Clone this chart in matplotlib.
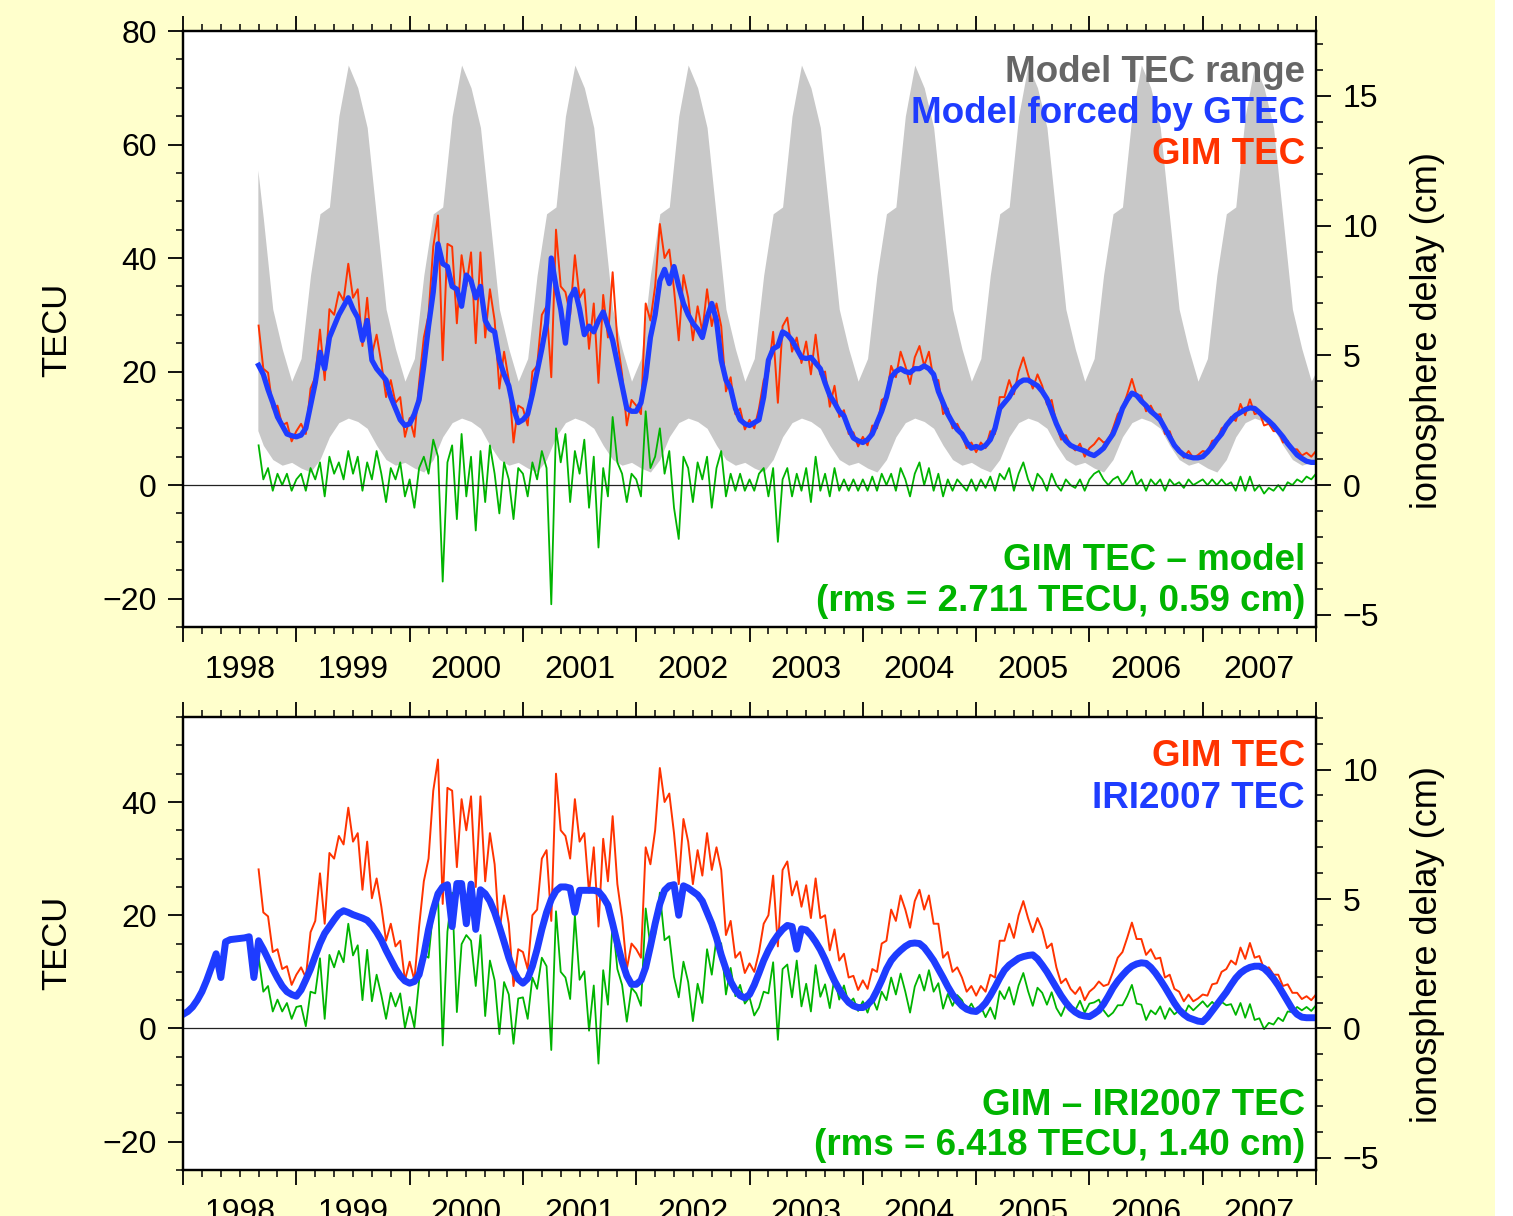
import numpy as np
import matplotlib
matplotlib.use("Agg")
import matplotlib.pyplot as plt
from matplotlib.patches import Rectangle
from matplotlib.ticker import MultipleLocator, FixedLocator, FuncFormatter, NullFormatter

plt.rcParams['font.family'] = ['Liberation Sans', 'DejaVu Sans']

# ---- data ----
# half-month grid: 1998.0 + k/24, GIM and model start at k = 16
STEP = 1.0 / 24
GIM_START = 16
KU_CM_PER_TECU = 0.2187   # Ku-band delay per TECU

# GIM TEC (red)
gim_tec = [
    28.1, 20.5, 19.8, 13.5, 14.0, 10.5, 11.0, 7.7,
    9.5, 10.8, 9.0, 17.0, 19.0, 27.4, 18.5, 31.0, 30.0, 34.0, 32.5, 39.0,
    33.0, 34.5, 24.5, 33.0, 23.0, 26.5, 21.5, 15.5, 18.5, 14.5, 15.5, 8.5,
    11.8, 8.5, 18.0, 26.0, 30.0, 42.0, 47.5, 22.0, 42.5, 42.0, 28.5, 40.5,
    35.0, 41.0, 25.0, 41.0, 26.0, 34.5, 29.0, 17.0, 23.5, 18.5, 7.5, 14.0,
    13.5, 10.5, 20.0, 21.0, 30.0, 31.5, 19.0, 45.0, 35.0, 34.0, 30.0, 40.5,
    33.0, 34.5, 24.0, 32.0, 18.0, 33.5, 26.0, 37.5, 25.5, 19.5, 10.5, 15.0,
    14.0, 12.5, 32.0, 29.0, 35.0, 46.0, 40.0, 41.5, 34.5, 25.5, 37.0, 33.0,
    25.5, 31.5, 27.0, 34.5, 28.0, 32.0, 28.0, 16.5, 19.0, 12.5, 13.5, 9.8,
    11.5, 10.0, 13.5, 18.5, 20.0, 27.0, 14.5, 28.0, 29.5, 23.5, 26.0, 21.5,
    25.3, 19.5, 26.5, 19.5, 20.0, 13.8, 17.5, 12.0, 13.2, 9.0, 9.3, 6.8,
    8.5, 7.0, 10.5, 10.0, 15.0, 15.5, 21.0, 19.0, 23.5, 21.0, 17.8, 22.5,
    24.5, 21.0, 23.5, 18.5, 18.5, 12.5, 13.5, 10.0, 10.8, 9.0, 6.5, 7.5,
    5.8, 7.5, 6.5, 9.5, 9.0, 15.5, 15.5, 18.5, 16.0, 20.0, 22.5, 19.5,
    17.0, 19.5, 17.5, 14.2, 15.0, 10.8, 8.0, 8.8, 7.0, 6.1, 7.3, 5.0,
    6.5, 7.2, 8.3, 7.5, 7.8, 10.0, 12.5, 13.5, 16.0, 18.7, 15.8, 15.8,
    13.0, 14.0, 12.3, 12.5, 9.0, 9.5, 7.0, 6.5, 4.8, 6.0, 4.8, 5.3,
    6.0, 5.8, 7.8, 8.0, 10.0, 10.5, 12.0, 11.3, 14.3, 12.3, 15.1, 12.5,
    12.8, 10.5, 10.8, 9.5, 9.5, 7.5, 7.8, 6.3, 6.3, 5.2, 5.7, 5.0,
    6.0,
]

# model forced by GTEC (blue, top panel)
model_tec = [
    21.1, 19.5, 16.8, 14.5, 12.0, 10.5, 9.0, 8.7,
    8.5, 8.8, 10.0, 14.0, 18.0, 23.4, 20.5, 26.0, 28.0, 30.0, 31.5, 33.0,
    31.0, 29.5, 25.5, 29.0, 22.0, 20.5, 19.5, 18.5, 15.5, 13.5, 11.5, 10.5,
    10.8, 12.5, 15.0, 21.0, 28.0, 34.0, 42.5, 39.0, 38.5, 35.0, 34.5, 31.5,
    37.0, 36.0, 33.0, 35.0, 29.0, 27.5, 27.0, 22.0, 19.5, 17.5, 13.5, 11.0,
    11.5, 12.5, 16.0, 20.0, 24.0, 28.5, 40.0, 35.0, 31.0, 25.0, 33.0, 34.5,
    31.0, 26.5, 28.0, 27.0, 29.0, 30.5, 28.0, 25.5, 21.5, 17.5, 13.5, 13.0,
    13.0, 14.5, 19.0, 26.0, 30.0, 36.0, 38.0, 35.5, 38.5, 35.0, 32.0, 30.0,
    28.5, 27.5, 26.0, 29.5, 32.0, 29.0, 22.0, 18.5, 17.0, 13.5, 11.5, 10.8,
    10.5, 11.0, 11.5, 15.5, 22.0, 24.0, 24.5, 27.0, 26.5, 25.5, 24.0, 22.5,
    22.3, 22.5, 21.5, 20.5, 18.0, 15.8, 14.5, 13.0, 12.2, 10.0, 8.3, 7.8,
    7.5, 8.0, 9.0, 11.0, 13.0, 15.5, 19.0, 20.0, 20.5, 20.0, 19.8, 20.5,
    20.5, 21.0, 20.5, 19.5, 16.5, 14.5, 12.5, 11.0, 9.8, 9.0, 7.5, 6.5,
    6.8, 6.5, 7.0, 8.0, 10.0, 13.5, 14.5, 15.5, 17.0, 18.0, 18.5, 18.5,
    18.0, 17.5, 16.5, 15.2, 13.0, 10.8, 9.0, 7.8, 7.0, 6.6, 6.3, 6.0,
    5.5, 5.2, 5.8, 6.5, 7.8, 9.0, 11.0, 13.5, 15.0, 16.2, 15.8, 14.8,
    14.0, 13.0, 12.3, 11.5, 10.0, 8.5, 7.0, 6.0, 5.3, 5.0, 4.8, 4.8,
    5.0, 5.8, 6.8, 8.0, 9.0, 10.5, 11.5, 12.3, 12.8, 13.3, 13.6, 13.5,
    12.8, 12.0, 11.3, 10.5, 9.5, 8.5, 7.3, 6.3, 5.3, 4.7, 4.2, 4.0,
    4.0,
]

# IRI2007 TEC (blue, bottom panel), from 1998.0
iri_tec = [
    2.5, 3.0, 3.8, 5.0, 6.5, 8.5, 10.8, 13.2, 9.0, 15.3, 15.7, 15.8,
    15.9, 16.0, 16.2, 9.0, 15.5, 14.0, 12.3, 10.5, 8.9, 7.5, 6.5, 6.0,
    5.7, 6.8, 8.6, 10.5, 12.8, 15.0, 16.8, 18.0, 19.2, 20.3, 20.8, 20.5,
    20.1, 19.8, 19.5, 19.1, 18.2, 17.0, 15.6, 13.8, 12.2, 10.6, 9.3, 8.4,
    8.0, 8.3, 9.5, 13.0, 17.5, 21.0, 23.8, 25.0, 25.4, 18.0, 25.6, 25.6,
    18.5, 25.5, 17.5, 24.5, 23.8, 22.5, 20.5, 18.0, 15.3, 12.5, 10.2, 8.7,
    8.0, 8.8, 11.0, 14.0, 17.5, 20.5, 22.8, 24.3, 25.0, 25.0, 24.8, 20.5,
    24.4, 24.4, 24.4, 24.4, 24.2, 23.2, 21.8, 18.5, 15.0, 11.8, 9.3, 7.8,
    7.8, 8.5, 10.8, 14.5, 18.5, 22.0, 24.4, 25.2, 25.4, 20.0, 25.2, 24.8,
    24.2, 23.6, 22.5, 20.5, 18.5, 16.0, 13.0, 10.5, 8.3, 6.8, 5.8, 5.4,
    6.0, 7.7, 9.8, 12.0, 13.8, 15.3, 16.5, 17.5, 18.2, 18.0, 14.0, 17.6,
    17.4, 16.5, 15.3, 13.9, 12.2, 10.2, 8.4, 6.9, 5.6, 4.6, 4.0, 3.7,
    3.7, 4.2, 5.1, 6.7, 8.5, 10.5, 12.0, 13.0, 13.8, 14.5, 15.0, 15.1,
    15.0, 14.3, 13.2, 12.0, 10.5, 9.0, 7.4, 6.0, 4.9, 4.0, 3.4, 3.1,
    3.0, 3.6, 4.5, 5.8, 7.3, 8.9, 10.3, 11.2, 11.8, 12.4, 12.7, 12.9,
    13.0, 12.3, 11.2, 10.0, 8.6, 7.2, 5.8, 4.6, 3.6, 2.9, 2.4, 2.2,
    2.1, 2.6, 3.2, 4.3, 5.7, 7.2, 8.4, 9.4, 10.3, 11.0, 11.4, 11.6,
    11.5, 10.8, 9.8, 8.6, 7.3, 5.9, 4.5, 3.3, 2.5, 1.9, 1.6, 1.3,
    1.2, 2.0, 3.1, 4.2, 5.3, 6.4, 7.7, 8.9, 9.8, 10.4, 10.8, 11.0,
    11.0, 10.6, 9.8, 8.8, 7.6, 6.2, 4.8, 3.4, 2.5, 2.0, 1.9, 1.9,
    1.9,
]

# model TEC range (grey band): start late Aug 1998, then monthly mid-points, end 2008.0
band_upper = [
    55.5, 47.0, 31.0, 24.0, 18.3,
    22.3, 37.0, 47.8, 49.0, 65.0, 74.0, 70.0, 63.0, 47.0, 31.0, 24.0, 18.3,
    22.3, 37.0, 47.8, 49.0, 65.0, 74.0, 70.0, 63.0, 47.0, 31.0, 24.0, 18.3,
    22.3, 37.0, 47.8, 49.0, 65.0, 74.0, 70.0, 63.0, 47.0, 31.0, 24.0, 18.3,
    22.3, 37.0, 47.8, 49.0, 65.0, 74.0, 70.0, 63.0, 47.0, 31.0, 24.0, 18.3,
    22.3, 37.0, 47.8, 49.0, 65.0, 74.0, 70.0, 63.0, 47.0, 31.0, 24.0, 18.3,
    22.3, 37.0, 47.8, 49.0, 65.0, 74.0, 70.0, 63.0, 47.0, 31.0, 24.0, 18.3,
    22.3, 37.0, 47.8, 49.0, 65.0, 74.0, 70.0, 63.0, 47.0, 31.0, 24.0, 18.3,
    22.3, 37.0, 47.8, 49.0, 65.0, 74.0, 70.0, 63.0, 47.0, 31.0, 24.0, 18.3,
    22.3, 37.0, 47.8, 49.0, 65.0, 74.0, 70.0, 63.0, 47.0, 31.0, 24.0, 18.3,
    20.0,
]
band_lower = [
    9.6, 7.0, 4.5, 3.5, 4.0,
    3.0, 2.3, 4.5, 8.5, 11.0, 11.8, 11.2, 10.0, 7.0, 4.5, 3.5, 4.0,
    3.0, 2.3, 4.5, 8.5, 11.0, 11.8, 11.2, 10.0, 7.0, 4.5, 3.5, 4.0,
    3.0, 2.3, 4.5, 8.5, 11.0, 11.8, 11.2, 10.0, 7.0, 4.5, 3.5, 4.0,
    3.0, 2.3, 4.5, 8.5, 11.0, 11.8, 11.2, 10.0, 7.0, 4.5, 3.5, 4.0,
    3.0, 2.3, 4.5, 8.5, 11.0, 11.8, 11.2, 10.0, 7.0, 4.5, 3.5, 4.0,
    3.0, 2.3, 4.5, 8.5, 11.0, 11.8, 11.2, 10.0, 7.0, 4.5, 3.5, 4.0,
    3.0, 2.3, 4.5, 8.5, 11.0, 11.8, 11.2, 10.0, 7.0, 4.5, 3.5, 4.0,
    3.0, 2.3, 4.5, 8.5, 11.0, 11.8, 11.2, 10.0, 7.0, 4.5, 3.5, 4.0,
    3.0, 2.3, 4.5, 8.5, 11.0, 11.8, 11.2, 10.0, 7.0, 4.5, 3.5, 4.0,
    3.5,
]
band_time = ([1998.66]
             + [1998 + (m + 0.5) / 12 for m in range(8, 12)]
             + [y + (m + 0.5) / 12 for y in range(1999, 2008) for m in range(12)]
             + [2008.0])

years = list(range(1998, 2008))

RED = '#FF3300'
BLUE = '#1E3CFF'
GREEN = '#00B400'
GREY = '#C8C8C8'
YELLOW = '#FFFFCC'

t_iri = 1998 + np.arange(len(iri_tec)) * STEP
t_gim = t_iri[GIM_START:]
gim = np.array(gim_tec)
model = np.array(model_tec)
iri = np.array(iri_tec)


def year_label(x, pos):
    if abs(x - np.floor(x) - 0.5) < 1e-6:
        return str(int(np.floor(x)))
    return ''


def style_axes(ax, ymin, ymax):
    ax.set_xlim(1998, 2008)
    ax.set_ylim(ymin, ymax)
    ax.xaxis.set_major_locator(FixedLocator(years + [2008]))
    ax.xaxis.set_minor_locator(FixedLocator(1998 + np.arange(61) / 6))
    ax.xaxis.set_major_formatter(NullFormatter())
    ax.xaxis.set_minor_formatter(FuncFormatter(year_label))
    ax.yaxis.set_major_locator(MultipleLocator(20))
    ax.yaxis.set_minor_locator(MultipleLocator(5))
    ax.tick_params(axis='x', which='both', direction='out', top=True, bottom=True,
                   labeltop=False, labelbottom=True)
    ax.tick_params(which='major', length=11, width=1.3, labelsize=23, pad=8)
    ax.tick_params(which='minor', length=5, width=1.1, labelsize=23, pad=9)
    ax.tick_params(axis='x', which='minor', pad=15)
    for s in ax.spines.values():
        s.set_linewidth(1.6)
    ax.set_facecolor('white')

    ax2 = ax.twinx()
    ax2.set_ylim(ymin * KU_CM_PER_TECU, ymax * KU_CM_PER_TECU)
    ax2.yaxis.set_major_locator(MultipleLocator(5))
    ax2.yaxis.set_minor_locator(MultipleLocator(1))
    ax2.tick_params(which='major', length=11, width=1.3, labelsize=23, pad=8)
    ax2.tick_params(which='minor', length=5, width=1.1)
    for s in ax2.spines.values():
        s.set_linewidth(1.6)
    return ax2


fig = plt.figure(figsize=(15.13, 12.16), dpi=100)
fig.patch.set_facecolor('white')
fig.add_artist(Rectangle((0, 0), 1495 / 1513, 1, transform=fig.transFigure,
                         facecolor=YELLOW, edgecolor='none', zorder=-10))

# ---- top panel ----
ax = fig.add_axes([0.1210, 0.4844, 0.7488, 0.4901])
ax.fill_between(band_time, band_lower, band_upper, color=GREY, lw=0, zorder=1)
ax.plot(t_gim, gim, color=RED, lw=1.4, zorder=2)
ax.plot(t_gim, model, color=BLUE, lw=3.8, zorder=3)
ax.plot(t_gim, gim - model, color=GREEN, lw=1.3, zorder=4)
ax.axhline(0, color='#222222', lw=0.9, zorder=5)
style_axes(ax, -25, 80)

kw = dict(transform=ax.transAxes, ha='right', va='baseline', fontsize=26.5, fontweight='bold')
ax.text(0.9903, 0.9144, 'Model TEC range', color='#666666', **kw)
ax.text(0.9903, 0.8456, 'Model forced by GTEC', color=BLUE, **kw)
ax.text(0.9903, 0.7768, 'GIM TEC', color=RED, **kw)
ax.text(0.9903, 0.0956, 'GIM TEC – model', color=GREEN, **kw)
ax.text(0.9903, 0.0268, '(rms = 2.711 TECU, 0.59 cm)', color=GREEN, **kw)

# ---- bottom panel ----
bx = fig.add_axes([0.1210, 0.0378, 0.7488, 0.3725])
bx.plot(t_gim, gim, color=RED, lw=1.4, zorder=2)
bx.plot(t_gim, gim - iri[GIM_START:], color=GREEN, lw=1.3, zorder=3)
bx.plot(t_iri, iri, color=BLUE, lw=5, zorder=4)
bx.axhline(0, color='#222222', lw=0.9, zorder=5)
style_axes(bx, -25, 55)

kw = dict(transform=bx.transAxes, ha='right', va='baseline', fontsize=26.5, fontweight='bold')
bx.text(0.9903, 0.8918, 'GIM TEC', color=RED, **kw)
bx.text(0.9903, 0.7991, 'IRI2007 TEC', color=BLUE, **kw)
bx.text(0.9903, 0.1214, 'GIM – IRI2007 TEC', color=GREEN, **kw)
bx.text(0.9903, 0.0331, '(rms = 6.418 TECU, 1.40 cm)', color=GREEN, **kw)

# axis titles
fig.text(0.0377, 0.7286, 'TECU', rotation=90, ha='center', va='center', fontsize=25)
fig.text(0.9438, 0.7286, 'ionosphere delay (cm)', rotation=90, ha='center', va='center', fontsize=26)
fig.text(0.0377, 0.2245, 'TECU', rotation=90, ha='center', va='center', fontsize=25)
fig.text(0.9438, 0.2229, 'ionosphere delay (cm)', rotation=90, ha='center', va='center', fontsize=26)

fig.savefig('out.png', dpi=100)
